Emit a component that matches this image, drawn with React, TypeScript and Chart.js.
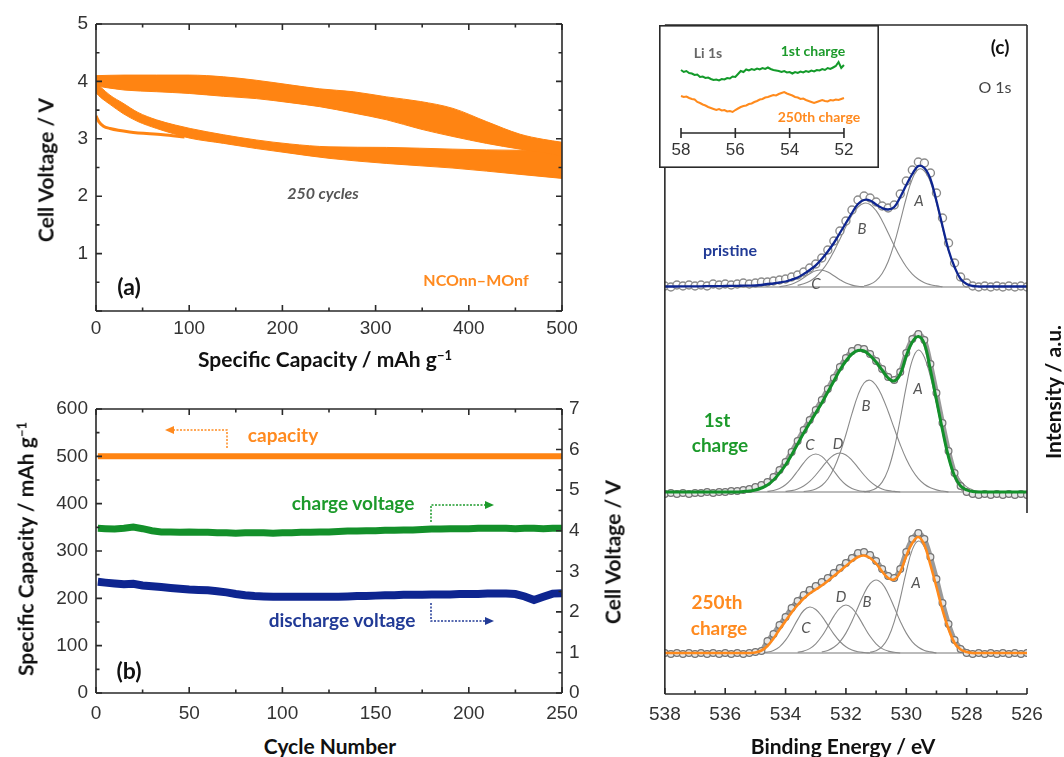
import React, { useEffect, useRef } from "react";
import { Chart, registerables } from "chart.js";
Chart.register(...registerables);

// ---------------- Panel (a): voltage profiles (250 cycles) ----------------
const A_CHARGE_CAP = [0, 30, 65, 100, 137, 172, 208, 240, 276, 312, 348, 383, 419, 455, 480, 500];
const A_CHARGE_TOP = [4.10, 4.11, 4.11, 4.11, 4.08, 4.02, 3.94, 3.87, 3.82, 3.73, 3.65, 3.53, 3.30, 3.08, 2.99, 2.94];
const A_CHARGE_BOTTOM = [3.92, 3.85, 3.82, 3.79, 3.74, 3.70, 3.63, 3.56, 3.45, 3.33, 3.17, 3.04, 2.92, 2.82, 2.76, 2.70];
const A_DISCHARGE_CAP = [0, 5, 15, 29, 45, 65, 85, 101, 137, 172, 208, 250, 312, 383, 455, 500];
const A_DISCHARGE_TOP = [3.97, 3.90, 3.76, 3.62, 3.46, 3.33, 3.24, 3.18, 3.07, 2.98, 2.91, 2.86, 2.85, 2.82, 2.80, 2.84];
const A_DISCHARGE_BOTTOM = [3.80, 3.72, 3.60, 3.44, 3.30, 3.18, 3.08, 3.01, 2.92, 2.83, 2.75, 2.66, 2.57, 2.49, 2.38, 2.31];
const A_FIRST_CAP = [0, 3, 8, 15, 36, 72, 95];
const A_FIRST_V = [3.40, 3.30, 3.22, 3.18, 3.12, 3.07, 3.03];
const A_X_TICKS = [0, 100, 200, 300, 400, 500];
const A_X_MINOR = [50, 150, 250, 350, 450];
const A_Y_TICKS = [1, 2, 3, 4, 5];
const A_Y_ALL = [0, 1, 2, 3, 4, 5];
const A_Y_MINOR = [0.5, 1.5, 2.5, 3.5, 4.5];

// ---------------- Panel (b): cycling ----------------
const B_CYCLES = [1, 5, 10, 15, 20, 25, 30, 35, 40, 45, 50, 55, 60, 65, 70, 75, 80, 85, 90, 95, 100, 105, 110, 115, 120, 125, 130, 135, 140, 145, 150, 155, 160, 165, 170, 175, 180, 185, 190, 195, 200, 205, 210, 215, 220, 225, 230, 235, 240, 245, 250];
const B_CHARGE_V = [4.06, 4.05, 4.04, 4.06, 4.09, 4.05, 4.00, 3.97, 3.97, 3.96, 3.97, 3.96, 3.96, 3.95, 3.95, 3.94, 3.95, 3.95, 3.95, 3.94, 3.95, 3.95, 3.96, 3.96, 3.97, 3.97, 3.98, 3.99, 3.99, 4.00, 4.00, 4.01, 4.01, 4.02, 4.02, 4.03, 4.04, 4.04, 4.05, 4.05, 4.05, 4.06, 4.06, 4.06, 4.06, 4.05, 4.06, 4.06, 4.05, 4.06, 4.06];
const B_DISCHARGE_V = [2.74, 2.72, 2.70, 2.68, 2.69, 2.65, 2.63, 2.61, 2.59, 2.57, 2.55, 2.54, 2.53, 2.51, 2.48, 2.44, 2.41, 2.39, 2.38, 2.37, 2.37, 2.37, 2.37, 2.37, 2.37, 2.37, 2.37, 2.38, 2.39, 2.39, 2.40, 2.41, 2.41, 2.42, 2.42, 2.42, 2.43, 2.43, 2.43, 2.44, 2.44, 2.44, 2.45, 2.45, 2.45, 2.44, 2.38, 2.29, 2.37, 2.45, 2.46];
const B_CAP_CYCLES = [1, 50, 100, 150, 200, 250];
const B_CAPACITY = [500, 500, 500, 500, 500, 500];
const B_X_TICKS = [0, 50, 100, 150, 200, 250];
const B_X_MINOR = [25, 75, 125, 175, 225];
const B_Y_TICKS = [0, 100, 200, 300, 400, 500, 600];
const B_Y_MINOR = [50, 150, 250, 350, 450, 550];
const B_Y1_TICKS = [0, 1, 2, 3, 4, 5, 6, 7];
const B_Y1_MINOR = [0.5, 1.5, 2.5, 3.5, 4.5, 5.5, 6.5];

// ---------------- Panel (c): O 1s XPS ----------------
const XPS_E = [538, 537.8, 537.6, 537.4, 537.2, 537, 536.8, 536.6, 536.4, 536.2, 536, 535.8, 535.6, 535.4, 535.2, 535, 534.8, 534.6, 534.4, 534.2, 534, 533.8, 533.6, 533.4, 533.2, 533, 532.8, 532.6, 532.4, 532.2, 532, 531.8, 531.6, 531.4, 531.2, 531, 530.8, 530.6, 530.4, 530.2, 530, 529.8, 529.6, 529.4, 529.2, 529, 528.8, 528.6, 528.4, 528.2, 528, 527.8, 527.6, 527.4, 527.2, 527, 526.8, 526.6, 526.4, 526.2, 526];
const C_X_TICKS = [538, 536, 534, 532, 530, 528, 526];
const C_X_MINOR = [537, 535, 533, 531, 529, 527];

const PRISTINE_FIT = [0.5, 0.5, 0.5, 0.6, 0.6, 0.7, 0.7, 0.8, 0.8, 0.9, 1.0, 1.1, 1.2, 1.3, 1.4, 1.5, 2, 3, 3.5, 4.5, 5.5, 7.3, 9.5, 13, 17, 21.7, 28, 35.5, 44, 54, 64, 74, 83, 87, 86.5, 82.5, 79, 77.5, 80, 90, 102, 113, 121, 119, 108, 86, 61, 37, 20, 8, 3, 1, 0.5, 0.5, 0.5, 0.5, 0.5, 0.5, 0.5, 0.5, 0.5];
const PRISTINE_DATA = [1, 0, 2, 1, 2, 1, 2, 1, 3, 2, 3, 2, 3, 4, 3, 4, 5, 5, 6, 7, 8, 10, 12, 15, 19, 23, 29, 37, 46, 56, 66, 77, 87, 91, 89, 85, 81, 79, 82, 93, 106, 117, 125, 124, 114, 94, 69, 44, 24, 10, 4, 1, 0, 1, 0, 1, 0, 1, 0, 1, 0];
const PRISTINE_A = [1.0, 2.7, 6.4, 13.5, 25.5, 43.3, 65.6, 89, 108, 117.6, 116, 105, 84, 59, 36, 19.5, 8, 3, 1, 0.3];
const PRISTINE_B = [1.6, 3.2, 5.8, 10, 16.3, 24.8, 35.5, 47.8, 60.4, 71.7, 80, 83.8, 82.5, 76.3, 66.3, 54, 41.5, 29.9, 20.2, 12.9, 7.7, 4.3, 2.3, 1.1, 0.3];
const PRISTINE_C = [0.4, 1.2, 2.8, 5.5, 9.3, 13.3, 16.3, 16.9, 15, 11.3, 7.3, 4, 1.9, 0.7, 0.2];

const FIRST_FIT = [0, 0, 0, 0, 0, 0, 0, 0, 0, 0, 0, 0, 0, 0.5, 1, 2, 4, 7, 12, 19, 27, 37, 48, 59, 69, 79, 89, 100, 111, 122, 131, 138, 141.5, 141, 136.5, 130, 122, 114, 111, 118, 136, 150, 155.5, 148, 122, 92, 62, 35, 16, 6, 2, 0.5, 0, 0, 0, 0, 0, 0, 0, 0, 0];
const FIRST_DATA = [-2, -1, -2, -1, -2, -1, -1, 0, -1, 0, 0, 1, 1, 2, 3, 5, 7, 10, 15, 22, 30, 40, 51, 62, 72, 82, 92, 103, 114, 125, 134, 141, 144, 143, 138, 131, 123, 115, 112, 120, 139, 153, 158, 152, 128, 99, 69, 41, 19, 6, 0, -2, -3, -2, -3, -2, -3, -2, -3, -2, -3];
const FIRST_A = [0.4, 1.3, 3.8, 9.9, 22.4, 43.5, 73, 105.6, 131.9, 142, 134.8, 115.3, 88.9, 61.8, 38.7, 21.8, 11.1, 5.1, 2.1, 0.7, 0];
const FIRST_B = [0.5, 1.2, 3, 6.5, 13, 23.4, 38.5, 57.5, 78.3, 96.9, 109, 111.8, 106.7, 95.6, 80.5, 63.7, 47.3, 33, 21.7, 13.4, 7.8, 4.2, 2.1, 1.0, 0];
const FIRST_C = [0.6, 1.5, 3.5, 7.3, 13.2, 21, 29.2, 35.6, 38, 35.6, 29.2, 21, 13.2, 7.3, 3.5, 1.5, 0.6, 0];
const FIRST_D = [0.6, 1.4, 3.1, 6, 10.6, 17, 24.4, 31.7, 37, 39, 37, 31.7, 24.4, 17, 10.6, 6, 3.1, 1.4, 0.6, 0];

const C250_FIT = [0, 0, 0, 0, 0, 0, 0, 0, 0, 0, 0, 0, 0, 0, 0, 0.5, 2.5, 7, 14.5, 23.5, 32, 40.5, 48, 54.5, 59.5, 63.5, 67.5, 72, 77, 82, 87, 92, 96, 97.5, 95, 89.5, 81.5, 75, 73.5, 81, 97, 110, 116, 108, 88, 66, 43, 24, 10, 3.5, 1, 0, 0, 0, 0, 0, 0, 0, 0, 0, 0];
const C250_DATA = [0, -1, 0, -1, 0, -1, 0, -1, 0, -1, 0, -1, 0, -1, 0, 1, 2, 12, 19, 28, 36, 45, 52, 58, 63, 67, 71, 75, 80, 85, 90, 95, 100, 101, 98, 92, 84, 77, 75, 84, 101, 114, 120, 114, 96, 74, 50, 29, 13, 4, 0, -1, 0, -1, 0, -1, 0, -1, 0, -1, 0];
const C250_A = [0.7, 2.2, 6.3, 15.2, 31.1, 54.5, 81.3, 103.4, 112, 106, 89.7, 68, 46, 27.9, 15.1, 7.4, 3.2, 1.2, 0];
const C250_B = [1.1, 2.6, 5.7, 11.2, 19.9, 31.8, 45.7, 59.3, 69.3, 73, 69.3, 59.3, 45.7, 31.8, 19.9, 11.2, 5.7, 2.6, 1.1, 0];
const C250_C = [0.3, 0.9, 2.6, 6.2, 12.8, 22.4, 33.4, 42.5, 46, 43.5, 36.8, 27.9, 18.9, 11.5, 6.2, 3, 1.3, 0.5, 0];
const C250_D = [0.7, 1.9, 4.4, 9.2, 16.7, 26.5, 36.9, 44.9, 48, 44.9, 36.9, 26.5, 16.7, 9.2, 4.4, 1.9, 0.7, 0];

// inset Li 1s
const INSET_E = [58, 57.9, 57.8, 57.7, 57.6, 57.5, 57.4, 57.3, 57.2, 57.1, 57, 56.9, 56.8, 56.7, 56.6, 56.5, 56.4, 56.3, 56.2, 56.1, 56, 55.9, 55.8, 55.7, 55.6, 55.5, 55.4, 55.3, 55.2, 55.1, 55, 54.9, 54.8, 54.7, 54.6, 54.5, 54.4, 54.3, 54.2, 54.1, 54, 53.9, 53.8, 53.7, 53.6, 53.5, 53.4, 53.3, 53.2, 53.1, 53, 52.9, 52.8, 52.7, 52.6, 52.5, 52.4, 52.3, 52.2, 52.1, 52];
const INSET_FIRST = [63, 61, 62, 60, 59.5, 58, 58.5, 56, 56.5, 55, 55.5, 54, 53, 53.5, 52.5, 54, 53.5, 55, 54.5, 56.5, 56, 59, 62, 61, 63.5, 62.5, 64, 63, 64.5, 63.5, 65, 64, 65.5, 64, 63, 62.5, 62, 61, 62, 60.5, 61, 59.5, 61, 60, 61.5, 60.5, 62, 61, 62.5, 61.5, 63, 62.5, 64, 63, 65, 64, 65.5, 67, 71, 65, 68];
const INSET_250 = [37, 36, 36.5, 35, 34, 33.5, 31, 30, 28.5, 27.5, 26, 25, 24, 23, 24, 22.5, 23, 21.5, 22, 21, 23, 24.5, 26, 27, 27.5, 29, 29.5, 31, 32, 33.5, 34, 35.5, 36, 37, 38, 37.5, 39, 40, 41, 39.5, 38.5, 37.5, 36, 35.5, 34, 34.5, 33, 32, 31, 30, 31, 32, 33, 32, 31.5, 33, 32.5, 33.5, 33, 34, 35];
const INSET_TICKS = [58, 56, 54, 52];

// stacking offsets for the three spectra
const OFF_PRISTINE = 407;
const OFF_FIRST = 202;
const OFF_250 = 41;

const ORANGE = "#ff8412";
const GREEN_LINE = "#13902a";
const BLUE_LINE = "#0e2590";
const TICK_FONT = { family: "'Liberation Sans', Arial, sans-serif", size: 19 };
const TICK_COLOR = "#333";

const pts = (xs: number[], ys: number[]) => xs.map((x, i) => ({ x, y: ys[i] }));
const seg = (from: number, vals: number[], off: number) => vals.map((v, i) => ({ x: XPS_E[from + i], y: v + off }));
const full = (vals: number[], off: number) => vals.map((v, i) => ({ x: XPS_E[i], y: v + off }));

const framePlugin = {
  id: "frameTicks",
  afterDatasetsDraw(chart: any, _a: any, opts: any) {
    const { ctx, chartArea: a } = chart;
    ctx.save();
    ctx.strokeStyle = "#2a2a2a";
    ctx.lineWidth = 1.6;
    const s = opts.sides || {};
    ctx.beginPath();
    if (s.top) { ctx.moveTo(a.left, a.top); ctx.lineTo(a.right, a.top); }
    if (s.bottom) { ctx.moveTo(a.left, a.bottom); ctx.lineTo(a.right, a.bottom); }
    if (s.left) { ctx.moveTo(a.left, a.top); ctx.lineTo(a.left, a.bottom); }
    if (s.right) { ctx.moveTo(a.right, a.top); ctx.lineTo(a.right, s.rightEnd != null ? a.top + s.rightEnd : a.bottom); }
    ctx.stroke();
    for (const t of opts.ticks || []) {
      const sc = chart.scales[t.scale];
      ctx.beginPath();
      for (const v of t.values) {
        const p = sc.getPixelForValue(v);
        if (t.side === "bottom") { ctx.moveTo(p, a.bottom); ctx.lineTo(p, a.bottom - t.len); }
        else if (t.side === "top") { ctx.moveTo(p, a.top); ctx.lineTo(p, a.top + t.len); }
        else if (t.side === "left") { ctx.moveTo(a.left, p); ctx.lineTo(a.left + t.len, p); }
        else { ctx.moveTo(a.right, p); ctx.lineTo(a.right - t.len, p); }
      }
      ctx.stroke();
    }
    ctx.restore();
  },
};

const insetPlugin = {
  id: "insetBox",
  beforeDraw(chart: any) {
    const { ctx, width, height } = chart;
    ctx.save();
    ctx.fillStyle = "#fff";
    ctx.fillRect(0, 0, width, height);
    ctx.restore();
  },
  afterDraw(chart: any) {
    const { ctx, chartArea: a, width, height } = chart;
    const s = chart.scales.x;
    ctx.save();
    ctx.strokeStyle = "#2a2a2a";
    ctx.lineWidth = 1.6;
    ctx.strokeRect(0.8, 0.8, width - 1.6, height - 1.6);
    ctx.beginPath();
    ctx.moveTo(s.getPixelForValue(INSET_TICKS[0]), a.bottom);
    ctx.lineTo(s.getPixelForValue(INSET_TICKS[INSET_TICKS.length - 1]), a.bottom);
    for (const v of INSET_TICKS) {
      const p = s.getPixelForValue(v);
      ctx.moveTo(p, a.bottom - 5);
      ctx.lineTo(p, a.bottom + 5);
    }
    ctx.stroke();
    ctx.restore();
  },
};

const fixedTicks = (vals: number[]) => (axis: any) => { axis.ticks = vals.map((v) => ({ value: v })); };

function axis(min: number, max: number, ticks: number[], padding: number, size: number, horizontal: boolean, extra: any = {}) {
  return {
    type: "linear",
    min,
    max,
    grid: { display: false, drawTicks: false },
    border: { display: false },
    ticks: { font: TICK_FONT, color: TICK_COLOR, padding, autoSkip: false, maxRotation: 0 },
    afterBuildTicks: fixedTicks(ticks),
    afterFit: (s: any) => { if (horizontal) s.height = size; else s.width = size; },
    ...extra,
  };
}

const baseOpts = {
  responsive: false,
  animation: false,
  events: [],
  plugins: { legend: { display: false }, tooltip: { enabled: false } },
};

function configA() {
  const band = { borderColor: ORANGE, borderWidth: 1, pointRadius: 0, cubicInterpolationMode: "monotone", backgroundColor: ORANGE };
  return {
    type: "line",
    data: {
      datasets: [
        { data: pts(A_FIRST_CAP, A_FIRST_V), borderColor: ORANGE, borderWidth: 3, pointRadius: 0, cubicInterpolationMode: "monotone", fill: false },
        { ...band, data: pts(A_CHARGE_CAP, A_CHARGE_TOP), fill: "+1" },
        { ...band, data: pts(A_CHARGE_CAP, A_CHARGE_BOTTOM), fill: false },
        { ...band, data: pts(A_DISCHARGE_CAP, A_DISCHARGE_TOP), fill: "+1" },
        { ...band, data: pts(A_DISCHARGE_CAP, A_DISCHARGE_BOTTOM), fill: false },
      ],
    },
    options: {
      ...baseOpts,
      layout: { padding: { left: 0, top: 24, right: 38, bottom: 0 } },
      scales: {
        x: axis(0, 500, A_X_TICKS, 6, 64, true),
        y: axis(0, 5, A_Y_TICKS, 8, 96, false),
      },
      plugins: {
        ...baseOpts.plugins,
        frameTicks: {
          sides: { top: true, bottom: true, left: true, right: true },
          ticks: [
            { scale: "x", side: "bottom", values: A_X_TICKS, len: 6 },
            { scale: "x", side: "bottom", values: A_X_MINOR, len: 3.5 },
            { scale: "x", side: "top", values: A_X_TICKS, len: 6 },
            { scale: "x", side: "top", values: A_X_MINOR, len: 3.5 },
            { scale: "y", side: "left", values: A_Y_ALL, len: 6 },
            { scale: "y", side: "left", values: A_Y_MINOR, len: 3.5 },
            { scale: "y", side: "right", values: A_Y_ALL, len: 6 },
            { scale: "y", side: "right", values: A_Y_MINOR, len: 3.5 },
          ],
        },
      },
    },
    plugins: [framePlugin],
  };
}

function configB() {
  return {
    type: "line",
    data: {
      datasets: [
        { data: pts(B_CAP_CYCLES, B_CAPACITY), borderColor: ORANGE, borderWidth: 6, pointRadius: 0, yAxisID: "y" },
        { data: pts(B_CYCLES, B_CHARGE_V), borderColor: GREEN_LINE, borderWidth: 7, pointRadius: 0, yAxisID: "y1" },
        { data: pts(B_CYCLES, B_DISCHARGE_V), borderColor: BLUE_LINE, borderWidth: 8, pointRadius: 0, yAxisID: "y1" },
      ],
    },
    options: {
      ...baseOpts,
      layout: { padding: { left: 0, top: 29, right: 0, bottom: 0 } },
      scales: {
        x: axis(0, 250, B_X_TICKS, 9, 37, true),
        y: axis(0, 600, B_Y_TICKS, 8, 96, false, { position: "left" }),
        y1: axis(0, 7, B_Y1_TICKS, 7, 38, false, { position: "right" }),
      },
      plugins: {
        ...baseOpts.plugins,
        frameTicks: {
          sides: { top: true, bottom: true, left: true, right: true },
          ticks: [
            { scale: "x", side: "bottom", values: B_X_TICKS, len: 6 },
            { scale: "x", side: "bottom", values: B_X_MINOR, len: 3.5 },
            { scale: "x", side: "top", values: B_X_TICKS, len: 6 },
            { scale: "x", side: "top", values: B_X_MINOR, len: 3.5 },
            { scale: "y", side: "left", values: B_Y_TICKS, len: 6 },
            { scale: "y", side: "left", values: B_Y_MINOR, len: 3.5 },
            { scale: "y1", side: "right", values: B_Y1_TICKS, len: 6 },
            { scale: "y1", side: "right", values: B_Y1_MINOR, len: 3.5 },
          ],
        },
      },
    },
    plugins: [framePlugin],
  };
}

function configC() {
  const comp = { borderColor: "#8a8a8a", borderWidth: 1.1, pointRadius: 0, tension: 0.4, fill: false };
  const fit = (data: any, color: string, w: number) => ({ data, borderColor: color, borderWidth: w, pointRadius: 0, tension: 0.4, fill: false });
  const dense = (data: any) => ({ data, showLine: true, borderColor: "#9a9a9a", borderWidth: 5, tension: 0.3, pointRadius: 3.4, pointBorderWidth: 1.2, pointBorderColor: "#747474", pointBackgroundColor: "#e6e6e6", fill: false });
  const base = (off: number) => ({ data: [{ x: 538, y: off }, { x: 526, y: off }], borderColor: "#a5a5a5", borderWidth: 1.5, pointRadius: 0, fill: false });
  return {
    type: "line",
    data: {
      datasets: [
        fit(full(PRISTINE_FIT, OFF_PRISTINE), BLUE_LINE, 2.3),
        fit(full(FIRST_FIT, OFF_FIRST), GREEN_LINE, 3),
        fit(full(C250_FIT, OFF_250), "#ff8a1c", 2.6),
        { data: full(PRISTINE_DATA, OFF_PRISTINE), showLine: false, pointRadius: 4, pointBorderWidth: 1.4, pointBorderColor: "#8c8c8c", pointBackgroundColor: "rgba(255,255,255,0.85)" },
        dense(full(FIRST_DATA, OFF_FIRST)),
        dense(full(C250_DATA, OFF_250)),
        { ...comp, data: seg(33, PRISTINE_A, OFF_PRISTINE) },
        { ...comp, data: seg(22, PRISTINE_B, OFF_PRISTINE) },
        { ...comp, data: seg(19, PRISTINE_C, OFF_PRISTINE) },
        { ...comp, data: seg(33, FIRST_A, OFF_FIRST) },
        { ...comp, data: seg(23, FIRST_B, OFF_FIRST) },
        { ...comp, data: seg(17, FIRST_C, OFF_FIRST) },
        { ...comp, data: seg(20, FIRST_D, OFF_FIRST) },
        { ...comp, data: seg(34, C250_A, OFF_250) },
        { ...comp, data: seg(26, C250_B, OFF_250) },
        { ...comp, data: seg(16, C250_C, OFF_250) },
        { ...comp, data: seg(22, C250_D, OFF_250) },
        base(OFF_PRISTINE),
        base(OFF_FIRST),
        base(OFF_250),
      ],
    },
    options: {
      ...baseOpts,
      layout: { padding: { left: 19, top: 25, right: 37, bottom: 0 } },
      scales: {
        x: axis(526, 538, C_X_TICKS, 9, 36, true, { reverse: true }),
        y: { type: "linear", min: 0, max: 669, display: false },
      },
      plugins: {
        ...baseOpts.plugins,
        frameTicks: {
          sides: { top: true, bottom: true, left: true, right: true, rightEnd: 488 },
          ticks: [
            { scale: "x", side: "bottom", values: C_X_TICKS, len: 6 },
            { scale: "x", side: "bottom", values: C_X_MINOR, len: 3.5 },
          ],
        },
      },
    },
    plugins: [framePlugin],
  };
}

function configInset() {
  return {
    type: "line",
    data: {
      datasets: [
        { data: pts(INSET_E, INSET_FIRST), borderColor: "#139a2a", borderWidth: 2, pointRadius: 0, fill: false },
        { data: pts(INSET_E, INSET_250), borderColor: "#ff8a1c", borderWidth: 2, pointRadius: 0, fill: false },
      ],
    },
    options: {
      ...baseOpts,
      layout: { padding: 0 },
      scales: {
        x: axis(50.71, 58.81, INSET_TICKS, 7, 35, true, { reverse: true, ticks: { font: { family: TICK_FONT.family, size: 17 }, color: TICK_COLOR, padding: 7, autoSkip: false, maxRotation: 0 } }),
        y: { type: "linear", min: 0, max: 108, display: false },
      },
    },
    plugins: [insetPlugin],
  };
}

function ChartCanvas({ left, top, width, height, make }: any) {
  const ref = useRef<HTMLCanvasElement>(null);
  useEffect(() => {
    const chart = new Chart(ref.current as any, make() as any);
    return () => chart.destroy();
  }, []);
  return <canvas ref={ref} width={width} height={height} style={{ position: "absolute", left, top, width, height }} />;
}

function T({ x, y, children, size = 16, weight = 700, color = "#111", italic = false, rot = false, family = "Lato, 'Open Sans', sans-serif" }: any) {
  return (
    <div
      style={{
        position: "absolute",
        left: x,
        top: y,
        width: "max-content",
        transform: `translate(-50%, -50%)${rot ? " rotate(-90deg)" : ""}`,
        whiteSpace: "nowrap",
        lineHeight: 1,
        fontFamily: family,
        fontSize: size,
        fontWeight: weight,
        fontStyle: italic ? "italic" : "normal",
        color,
      }}
    >
      {children}
    </div>
  );
}

const Sup = ({ children }: any) => <span style={{ fontSize: "0.62em", position: "relative", top: "-0.55em" }}>{children}</span>;

export default function App() {
  const green = "#1c9a2b";
  const blue = "#213a96";
  const org = "#ff8a1f";
  const comp = { size: 15, weight: 400, color: "#555", italic: true };
  return (
    <div style={{ position: "fixed", left: 0, top: 0, width: 1064, height: 757, background: "#fff", overflow: "hidden" }}>
      <ChartCanvas left={0} top={0} width={600} height={375} make={configA} />
      <ChartCanvas left={0} top={380} width={600} height={350} make={configB} />
      <ChartCanvas left={640} top={0} width={424} height={730} make={configC} />
      <ChartCanvas left={659} top={25} width={220} height={143} make={configInset} />

      {/* panel (a) text */}
      <T x={45} y={170} size={21} rot>Cell Voltage / V</T>
      <T x={325} y={359} size={21}>Specific Capacity / mAh g<Sup>−1</Sup></T>
      <T x={323} y={193} size={16} color="#555" italic>250 cycles</T>
      <T x={129} y={286} size={23}>(a)</T>
      <T x={476} y={280} size={16} color={org}>NCOnn–MOnf</T>

      {/* panel (b) text */}
      <T x={25} y={549} size={21} rot>Specific Capacity / mAh g<Sup>−1</Sup></T>
      <T x={612} y={552} size={21} rot>Cell Voltage / V</T>
      <T x={330} y={745} size={21}>Cycle Number</T>
      <T x={283} y={434} size={19} color={org}>capacity</T>
      <T x={353} y={502} size={19} color={green}>charge voltage</T>
      <T x={342} y={619} size={19} color={blue}>discharge voltage</T>
      <T x={129} y={670} size={23}>(b)</T>
      <svg width={1064} height={757} style={{ position: "absolute", left: 0, top: 0 }}>
        <polyline points="227,448 227,430 173,430" fill="none" stroke={org} strokeWidth={1.5} strokeDasharray="2 1.5" />
        <polygon points="165,430 174,426 174,434" fill={org} />
        <polyline points="431,522 431,505 486,505" fill="none" stroke={green} strokeWidth={1.5} strokeDasharray="2 1.5" />
        <polygon points="494,505 485,501 485,509" fill={green} />
        <polyline points="431,603 431,621 486,621" fill="none" stroke={blue} strokeWidth={1.5} strokeDasharray="2 1.5" />
        <polygon points="494,621 485,617 485,625" fill={blue} />
      </svg>

      {/* panel (c) text */}
      <T x={1000} y={46} size={19}>(c)</T>
      <T x={995} y={87} size={16} weight={400} color="#444">O 1s</T>
      <T x={1052} y={392} size={21} rot>Intensity / a.u.</T>
      <T x={843} y={745} size={21}>Binding Energy / eV</T>
      <T x={730} y={250} size={16} color={blue}>pristine</T>
      <T x={717} y={419} size={19} color={green}>1st</T>
      <T x={720} y={444} size={19} color={green}>charge</T>
      <T x={717} y={601} size={19} color={org}>250th</T>
      <T x={719} y={627} size={19} color={org}>charge</T>
      <T x={919} y={200} {...comp}>A</T>
      <T x={862} y={228} {...comp}>B</T>
      <T x={816} y={283} {...comp}>C</T>
      <T x={918} y={388} {...comp}>A</T>
      <T x={866} y={405} {...comp}>B</T>
      <T x={810} y={444} {...comp}>C</T>
      <T x={838} y={443} {...comp}>D</T>
      <T x={916} y={582} {...comp}>A</T>
      <T x={867} y={601} {...comp}>B</T>
      <T x={841} y={596} {...comp}>D</T>
      <T x={806} y={627} {...comp}>C</T>
      <T x={708} y={53} size={14} color="#666">Li 1s</T>
      <T x={813} y={51} size={14} color={green}>1st charge</T>
      <T x={819} y={117} size={14} color={org}>250th charge</T>
    </div>
  );
}
